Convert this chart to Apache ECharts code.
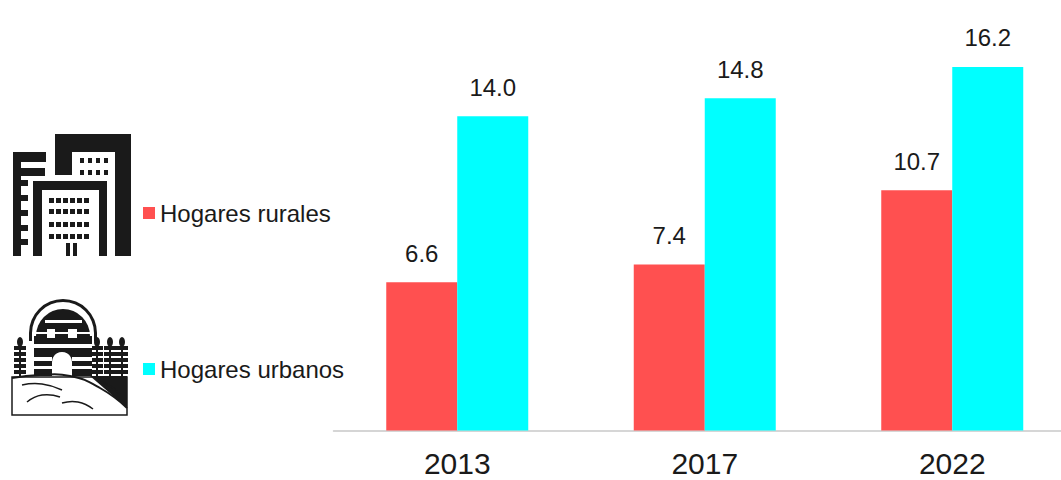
<!DOCTYPE html>
<html><head><meta charset="utf-8">
<style>html,body{margin:0;padding:0;background:#fff}#c{width:1061px;height:480px}</style>
<script src="https://cdn.jsdelivr.net/npm/echarts@6/dist/echarts.min.js"></script>
</head><body><div id="c"></div>
<script>
const categories=['2013','2017','2022'];
const rural=[6.6,7.4,10.7];
const urban=[14.0,14.8,16.2];
const seriesNames=['Hogares rurales','Hogares urbanos'];
const ink='#1a1a1a',paper='#ffffff',redC='#ff5050',cyanC='#00ffff',fam='"Liberation Sans", Arial, sans-serif';
const chart=echarts.init(document.getElementById('c'),null,{renderer:'svg'});
const lab={show:true,position:'top',distance:17,color:ink,fontSize:24,fontFamily:fam,formatter:p=>p.value.toFixed(1)};
function building(){const e=[];
 const R=(x,y,w,h,f)=>e.push({type:'rect',silent:true,shape:{x,y,width:w,height:h},style:{fill:f}});
 R(55,134,76,122,ink);R(72,152,43,104,paper);
 R(55,175,60,6,paper);
 [80,88,96,104].forEach(x=>[158,170].forEach(y=>R(x,y,4,5,ink)));
 R(13,152,33,10,ink);R(13,152,8,104,ink);R(21,168,24,8,ink);
 [186,201,216,231,245].forEach(y=>R(21,y-6,7,6,ink));
 R(33,181,74,75,ink);R(42,190,57,66,paper);
 [48,55,62,69,76,83].forEach(x=>[198,209,222,234].forEach(y=>R(x+1,y,5,5,ink)));
 R(66,243,4,13,ink);R(73,243,4,13,ink);
 return e;}
function house(){const e=[];
 const R=(x,y,w,h,f)=>e.push({type:'rect',silent:true,shape:{x,y,width:w,height:h},style:{fill:f}});
 [20,97,110,122].forEach(x=>{
  R(x-1,342,2,34,ink);
  [346,352,358,364,370].forEach(y=>{R(x-6,y,5,4,ink);R(x+1,y,5,4,ink);});
  e.push({type:'ellipse',silent:true,shape:{cx:x,cy:342,rx:3,ry:5},style:{fill:ink}});
 });
 e.push({type:'sector',silent:true,shape:{cx:63,cy:333,r:34,r0:31,startAngle:Math.PI,endAngle:0,clockwise:true},style:{fill:ink}});
 R(29,333,3,8,ink);R(94,333,3,8,ink);
 e.push({type:'sector',silent:true,shape:{cx:63,cy:336,r:27,r0:0,startAngle:Math.PI,endAngle:0,clockwise:true},style:{fill:ink}});
 R(34,336,58,40,ink);
 R(45,320,37,3,paper);
 R(47,329,8,9,paper);R(68,329,9,9,paper);R(36,332,11,2,paper);R(55,332,13,2,paper);R(77,332,13,2,paper);
 R(34,344,58,4,paper);R(34,357,18,4,paper);R(72,357,20,4,paper);R(34,366,18,3,paper);R(72,366,20,3,paper);
 e.push({type:'circle',silent:true,shape:{cx:62,cy:362,r:10},style:{fill:paper}});
 R(52,362,20,14,paper);
 e.push({type:'polygon',silent:true,shape:{points:[[90,376],[127,376],[127,408]]},style:{fill:ink}});
 const P=(pts,w)=>e.push({type:'polyline',silent:true,shape:{points:pts,smooth:0.5},style:{fill:'none',stroke:ink,lineWidth:w}});
 P([[12,378],[40,375],[70,376],[100,388],[127,408]],2);
 e.push({type:'rect',silent:true,shape:{x:12,y:377,width:115,height:38},style:{fill:'none',stroke:ink,lineWidth:1.5}});
 P([[22,385],[42,384],[62,390]],1.5);
 P([[27,402],[42,395],[60,397]],1.5);
 P([[62,403],[78,402],[93,409]],1.5);
 P([[98,381],[110,386],[120,394]],1.5);
 return e;}
const legendBase={left:143,padding:0,itemWidth:12,itemHeight:12,itemGap:0,selectedMode:false,textStyle:{color:ink,fontSize:24,fontFamily:fam,padding:0}};
chart.setOption({
 animation:false,
 grid:{left:333.5,width:742.5,top:26.5,height:404,containLabel:false,outerBoundsMode:'none'},
 xAxis:{type:'category',data:categories,axisTick:{show:false},axisLine:{lineStyle:{color:'#c8c8c8',width:1.5}},axisLabel:{color:ink,fontSize:30,lineHeight:24,fontFamily:fam,margin:21}},
 yAxis:{type:'value',min:0,max:18,show:false,splitLine:{show:false}},
 legend:[
  Object.assign({},legendBase,{data:[{name:seriesNames[0],icon:'rect'}],top:201}),
  Object.assign({},legendBase,{data:[{name:seriesNames[1],icon:'rect'}],top:357})
 ],
 series:[
  {name:seriesNames[0],type:'bar',data:rural,barWidth:71,barGap:'0%',itemStyle:{color:redC},label:lab},
  {name:seriesNames[1],type:'bar',data:urban,barWidth:71,itemStyle:{color:cyanC},label:lab}
 ],
 graphic:[...building(),...house()]
});
</script></body></html>
